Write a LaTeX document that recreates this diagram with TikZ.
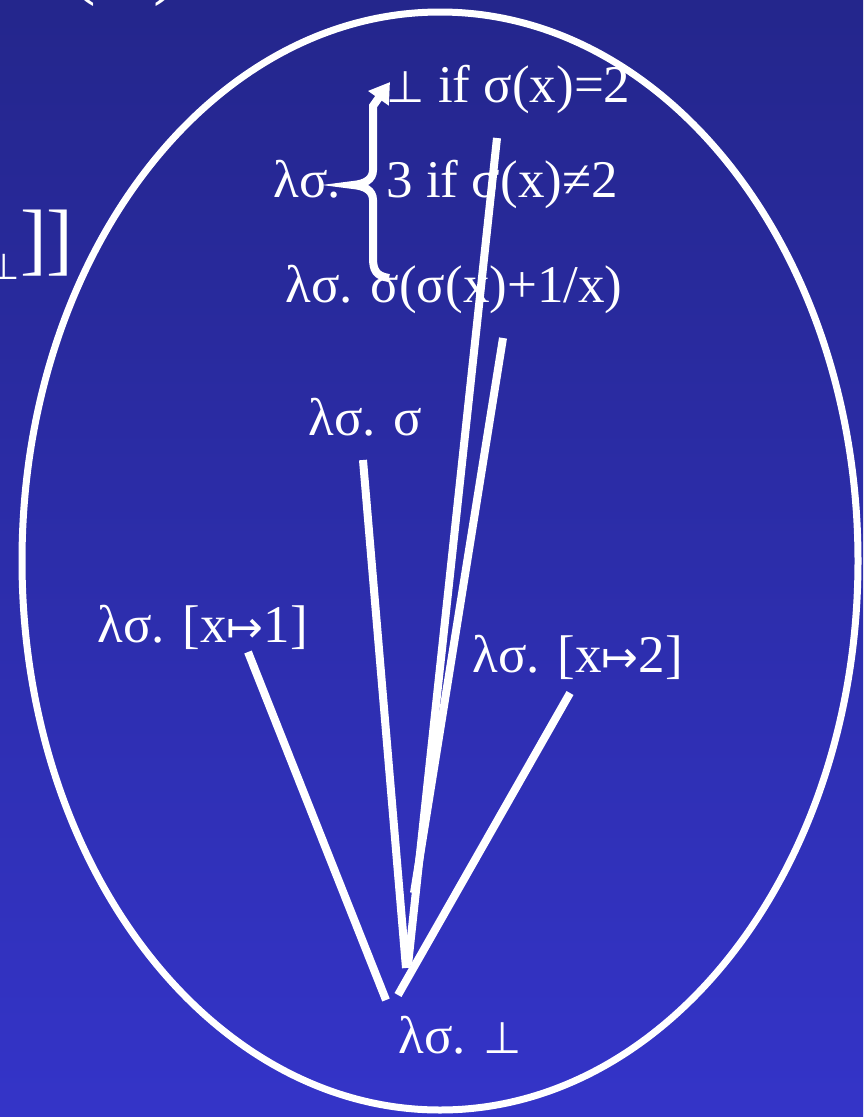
\documentclass[tikz,border=0pt]{standalone}
\usepackage{fontspec}
\setmainfont{Liberation Serif}
\newfontfamily\symf{DejaVu Sans}
\usetikzlibrary{arrows.meta, positioning, calc}
\definecolor{bgtop}{RGB}{36,38,140}
\definecolor{bgbot}{RGB}{52,52,200}
\newcommand{\bt}{{\symf\fontsize{44}{46}\selectfont ⊥}}
\newcommand{\mto}{{\symf\fontsize{44}{46}\selectfont ↦}}
\tikzset{
  every picture/.style={line width=7pt},
  lbl/.style={text=white, font=\fontsize{53}{60}\selectfont, inner sep=0pt, anchor=base west},
  edge/.style={draw=white, line width=8pt},
}

\begin{document}
\begin{tikzpicture}[x=1pt, y=-1pt,
    cut/.style={text=white, font=\fontsize{80}{90}\selectfont, inner sep=0pt},
    brace/.style={draw=white, line width=8pt, -{Triangle[length=20pt, width=24pt]}}]
  % ---- background ----
  \shade[top color=bgtop, bottom color=bgbot] (0,0) rectangle (863,1117);
  \useasboundingbox (0,0) rectangle (863,1117);
  % ---- pieces of the slide cut off at the edge ----
  \node[cut, anchor=base] (hd) at (125,-11) {(\hspace{58pt})};
  \node[cut, anchor=base east] (rb) at (77,265) {\raisebox{-14pt}{\symf\fontsize{36}{36}\selectfont ⊥}]]};
  % ---- the ellipse ----
  \draw[white] (440,561) ellipse [x radius=418pt, y radius=549pt];
  % ---- labels ----
  \node[lbl] (c1) at (383,102) {\bt{} if σ(x)=2};
  \node[lbl] (c2) at (383,197) {3 if σ(x)≠2};
  \node[lbl] (lam) at (270,197) {λσ.};
  \node[lbl] (div) at (282,302) {λσ. σ(σ(x)+1/x)};
  \node[lbl] (id) at (305,435) {λσ. σ};
  \node[lbl] (one) at (94,642) {λσ. [x\mto1]};
  \node[lbl] (two) at (469,672) {λσ. [x\mto2]};
  \node[lbl] (bot) at (395,1053) {λσ. \bt};
  \draw[brace] (389,278) .. controls (376,276) and (373,270) .. (373,258) -- (373,200)
    .. controls (373,190) and (364,186) .. (353,185)
    .. controls (364,184) and (373,180) .. (373,170) -- (373,106) -- (390,82);
  % ---- orderings up from bottom ----
  \coordinate (one-t) at (248,652);  \coordinate (one-b) at (386,1000);
  \coordinate (two-t) at (570,693);  \coordinate (two-b) at (398,995);
  \coordinate (id-t) at (363,460);   \coordinate (id-b) at (406,968);
  \coordinate (c1-t) at (497,138);   \coordinate (c1-b) at (408,965);
  \coordinate (div-t) at (503,338);  \coordinate (div-b) at (414,893);
  \foreach \n in {one, two, id, c1, div}
    \draw[edge] (\n-t) -- (\n-b);
\end{tikzpicture}
\end{document}
